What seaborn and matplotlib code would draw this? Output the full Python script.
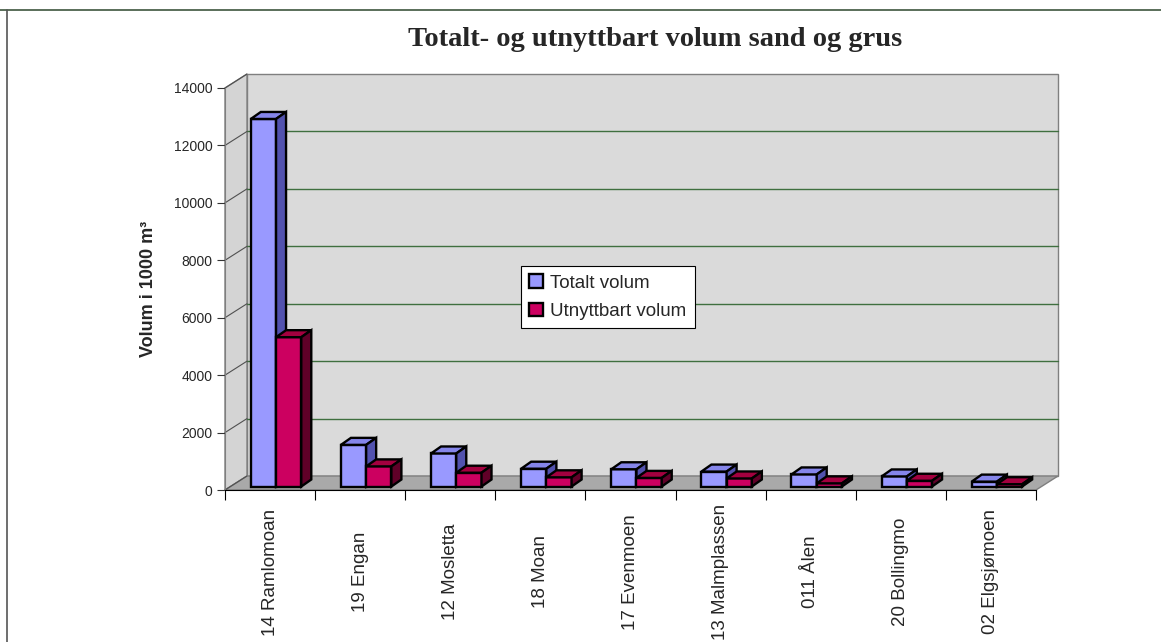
import matplotlib
matplotlib.use("Agg")
import numpy as np
import pandas as pd
import matplotlib.pyplot as plt
import seaborn as sns
from matplotlib.patches import Polygon, Patch, Rectangle
from matplotlib.lines import Line2D
from matplotlib.transforms import ScaledTranslation

# values (1000 m3)
sites = ["14 Ramlomoan", "19 Engan", "12 Mosletta", "18 Moan", "17 Evenmoen",
         "13 Malmplassen", "011 Ålen", "20 Bollingmo", "02 Elgsjømoen"]
totalt = [12800, 1450, 1150, 620, 600, 520, 420, 350, 170]
utnyttbart = [5200, 700, 480, 320, 300, 280, 110, 200, 80]
series = ["Totalt volum", "Utnyttbart volum"]

df = pd.DataFrame({
    "site": sites * 2,
    "volum": totalt + utnyttbart,
    "serie": [series[0]] * len(sites) + [series[1]] * len(sites),
})

front = ["#9999FF", "#CC0060"]
top = ["#8585EA", "#A3003F"]
side = ["#5252AE", "#600028"]

sns.set_style("white")
plt.rcParams["font.family"] = ["Liberation Sans", "DejaVu Sans"]

W, H = 1161, 642
fig = plt.figure(figsize=(W / 100, H / 100), dpi=100)
ax = fig.add_axes([225 / W, 1 - 490 / H, 811 / W, 402 / H])

sns.barplot(data=df, x="site", y="volum", hue="serie", palette=front,
            saturation=1, width=0.56, edgecolor="black", linewidth=1.7,
            ax=ax, legend=False)
bars = [p for p in ax.patches
        if isinstance(p, Rectangle) and p.get_width() > 0 and p.get_height() > 0]

x0, x1, y0, y1 = -0.5, len(sites) - 0.5, 0, 14000
ax.set_xlim(x0, x1)
ax.set_ylim(y0, y1)
ax.patch.set_visible(False)

WALL = np.array([22, 14])   # depth of the floor in pixels
DEPTH = np.array([10, 7])   # depth of a bar in pixels
OFF = (WALL - DEPTH) / 2    # bars stand in the middle of the floor depth


def px(x, y):
    return ax.transData.transform((x, y))


def poly(points, **kw):
    data = ax.transData.inverted().transform(np.array(points))
    ax.add_patch(Polygon(data, closed=True, clip_on=False, **kw))


def line(p, q, **kw):
    data = ax.transData.inverted().transform(np.array([p, q]))
    ax.add_line(Line2D(data[:, 0], data[:, 1], clip_on=False, **kw))


# walls and floor
poly([px(x0, y0) + WALL, px(x1, y0) + WALL, px(x1, y1) + WALL, px(x0, y1) + WALL],
     facecolor="#DADADA", edgecolor="#7F7F7F", lw=1, zorder=0.5)
poly([px(x0, y0), px(x0, y1), px(x0, y1) + WALL, px(x0, y0) + WALL],
     facecolor="#D4D4D4", edgecolor="#7F7F7F", lw=1, zorder=0.5)
poly([px(x0, y0), px(x1, y0), px(x1, y0) + WALL, px(x0, y0) + WALL],
     facecolor="#A9A9A9", edgecolor="#7F7F7F", lw=1, zorder=0.6)

for v in range(2000, 14000, 2000):
    line(px(x0, v) + WALL, px(x1, v) + WALL, color="#3F6F3F", lw=1, zorder=0.7)
for v in range(0, 14001, 2000):
    line(px(x0, v), px(x0, v) + WALL, color="#505050", lw=0.8, zorder=0.7)

# 3D faces for each bar
shift = ax.transData + ScaledTranslation(OFF[0] / fig.dpi, OFF[1] / fig.dpi,
                                         fig.dpi_scale_trans)
n = len(sites)
order = sorted(range(len(bars)), key=lambda i: bars[i].get_x())
for rank, i in enumerate(order):
    b = bars[i]
    k = i // n
    z = 2 + rank * 0.1
    b.set_zorder(z)
    b.set_transform(shift)
    bx, bw, bh = b.get_x(), b.get_width(), b.get_height()
    BR, TR, TL = px(bx + bw, 0) + OFF, px(bx + bw, bh) + OFF, px(bx, bh) + OFF
    poly([TL, TR, TR + DEPTH, TL + DEPTH], facecolor=top[k], edgecolor="black",
         lw=1.7, zorder=z + 0.05)
    poly([BR, TR, TR + DEPTH, BR + DEPTH], facecolor=side[k], edgecolor="black",
         lw=1.7, zorder=z + 0.05)

# axes styling
sns.despine(ax=ax, top=True, right=True)
ax.spines["left"].set_color("#7F7F7F")
ax.spines["bottom"].set_color("black")
ax.spines["bottom"].set_zorder(5)

ax.set_yticks(range(0, 14001, 2000))
ax.tick_params(axis="y", left=True, length=6, width=0.8, color="#333333",
               labelsize=10, pad=3)
ax.set_xticks(range(n))
ax.set_xticklabels(sites, rotation=90, fontsize=13.5)
for lab in ax.get_xticklabels():
    lab.set_va("center")
ax.tick_params(axis="x", which="major", length=0, pad=59)
ax.set_xticks(np.arange(x0, x1 + 0.01, 1), minor=True)
ax.tick_params(axis="x", which="minor", bottom=True, length=7, width=0.8,
               color="black")
ax.set_xlabel("")
ax.set_ylabel("Volum i 1000 m³", fontsize=13, fontweight="bold")
ax.yaxis.set_label_coords((157 - 225) / 811, 0.5)

handles = [Patch(facecolor=c, edgecolor="black", linewidth=1.7) for c in front]
leg = ax.legend(handles, series, loc="upper left",
                bbox_to_anchor=(521 / W, 1 - 266 / H), bbox_transform=fig.transFigure,
                frameon=True, fancybox=False, edgecolor="black", framealpha=1,
                fontsize=13.5, handlelength=0.7, handleheight=0.7, borderpad=0.45,
                labelspacing=0.6, handletextpad=0.4, borderaxespad=0)
leg.get_frame().set_linewidth(0.8)
leg.set_zorder(10)

fig.text(655 / W, 1 - 40 / H, "Totalt- og utnyttbart volum sand og grus",
         family=["Liberation Serif", "DejaVu Serif"], fontweight="bold",
         fontsize=20.5, ha="center", va="center")

# outer frame of the chart
fig.add_artist(Line2D([0, 1], [1 - 10 / H] * 2, transform=fig.transFigure,
                      color="#3D553D", lw=1.2))
fig.add_artist(Line2D([7 / W] * 2, [0, 1 - 10 / H], transform=fig.transFigure,
                      color="#555555", lw=1.2))

fig.savefig("out.png", dpi=100)
